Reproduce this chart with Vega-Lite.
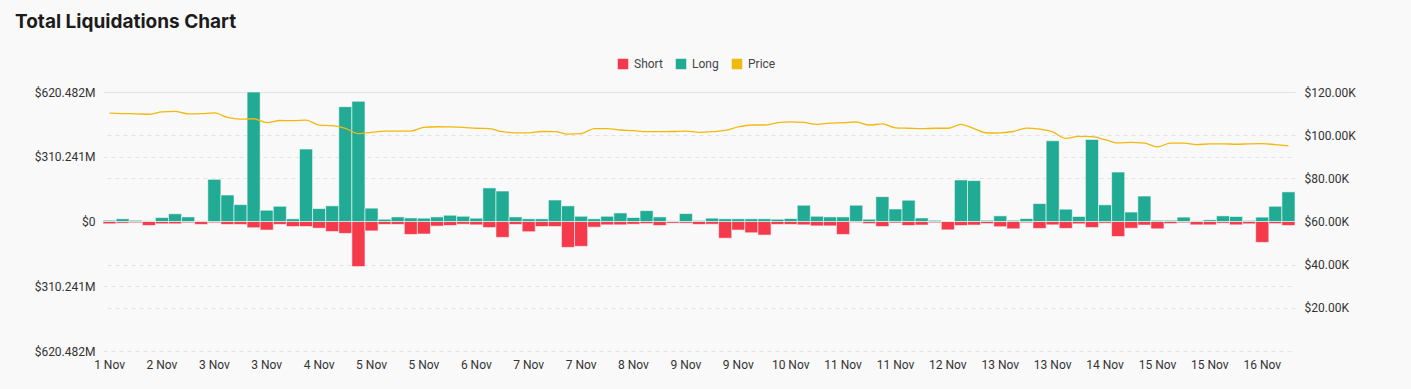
{
  "$schema": "https://vega.github.io/schema/vega-lite/v6.json",
  "width": 1192,
  "height": 259,
  "autosize": {"type": "none"},
  "padding": {"left": 103, "top": 92, "right": 116, "bottom": 38},
  "background": "#f9f9f9",
  "title": {
    "text": "Total Liquidations Chart",
    "anchor": "start",
    "frame": "group",
    "font": "Inter",
    "fontSize": 19,
    "fontWeight": 700,
    "color": "#1c1c1c",
    "dx": -88,
    "offset": 26
  },
  "config": {
    "view": {"stroke": null},
    "axis": {
      "labelFont": "Roboto",
      "labelFontSize": 12,
      "labelColor": "#333333",
      "ticks": false,
      "domain": false,
      "title": null
    }
  },
  "data": {
    "values": [
      {"time": "2024-11-01T16:00", "Long": 6, "Short": -11, "Price": 110.2},
      {"time": "2024-11-01T20:00", "Long": 13, "Short": -8, "Price": 110.0},
      {"time": "2024-11-02T00:00", "Long": 6, "Short": -6, "Price": 109.9},
      {"time": "2024-11-02T04:00", "Long": 3, "Short": -19, "Price": 109.7},
      {"time": "2024-11-02T08:00", "Long": 19, "Short": -11, "Price": 110.8},
      {"time": "2024-11-02T12:00", "Long": 37, "Short": -11, "Price": 111.0},
      {"time": "2024-11-02T16:00", "Long": 22, "Short": -6, "Price": 109.9},
      {"time": "2024-11-02T20:00", "Long": 3, "Short": -14, "Price": 110.0},
      {"time": "2024-11-03T00:00", "Long": 202, "Short": -6, "Price": 110.3},
      {"time": "2024-11-03T04:00", "Long": 127, "Short": -14, "Price": 108.2},
      {"time": "2024-11-03T08:00", "Long": 81, "Short": -14, "Price": 107.4},
      {"time": "2024-11-03T12:00", "Long": 620.482, "Short": -30, "Price": 107.6},
      {"time": "2024-11-03T16:00", "Long": 54, "Short": -41, "Price": 105.8},
      {"time": "2024-11-03T20:00", "Long": 73, "Short": -14, "Price": 106.8},
      {"time": "2024-11-04T00:00", "Long": 13, "Short": -24, "Price": 106.7},
      {"time": "2024-11-04T04:00", "Long": 347, "Short": -24, "Price": 107.0},
      {"time": "2024-11-04T08:00", "Long": 62, "Short": -32, "Price": 104.7},
      {"time": "2024-11-04T12:00", "Long": 75, "Short": -48, "Price": 104.4},
      {"time": "2024-11-04T16:00", "Long": 550, "Short": -57, "Price": 103.2},
      {"time": "2024-11-04T20:00", "Long": 576, "Short": -216, "Price": 100.7},
      {"time": "2024-11-05T00:00", "Long": 64, "Short": -45, "Price": 101.3},
      {"time": "2024-11-05T04:00", "Long": 11, "Short": -14, "Price": 101.9},
      {"time": "2024-11-05T08:00", "Long": 22, "Short": -14, "Price": 101.9},
      {"time": "2024-11-05T12:00", "Long": 17, "Short": -62, "Price": 101.9},
      {"time": "2024-11-05T16:00", "Long": 16, "Short": -60, "Price": 103.6},
      {"time": "2024-11-05T20:00", "Long": 22, "Short": -22, "Price": 103.9},
      {"time": "2024-11-06T00:00", "Long": 30, "Short": -19, "Price": 103.8},
      {"time": "2024-11-06T04:00", "Long": 25, "Short": -13, "Price": 103.6},
      {"time": "2024-11-06T08:00", "Long": 16, "Short": -16, "Price": 103.2},
      {"time": "2024-11-06T12:00", "Long": 161, "Short": -29, "Price": 103.0},
      {"time": "2024-11-06T16:00", "Long": 146, "Short": -76, "Price": 101.6},
      {"time": "2024-11-06T20:00", "Long": 22, "Short": -14, "Price": 101.1},
      {"time": "2024-11-07T00:00", "Long": 13, "Short": -49, "Price": 101.1},
      {"time": "2024-11-07T04:00", "Long": 13, "Short": -24, "Price": 101.7},
      {"time": "2024-11-07T08:00", "Long": 103, "Short": -24, "Price": 101.6},
      {"time": "2024-11-07T12:00", "Long": 75, "Short": -124, "Price": 100.5},
      {"time": "2024-11-07T16:00", "Long": 25, "Short": -119, "Price": 100.7},
      {"time": "2024-11-07T20:00", "Long": 13, "Short": -27, "Price": 103.0},
      {"time": "2024-11-08T00:00", "Long": 25, "Short": -16, "Price": 103.0},
      {"time": "2024-11-08T04:00", "Long": 41, "Short": -16, "Price": 102.4},
      {"time": "2024-11-08T08:00", "Long": 19, "Short": -13, "Price": 102.1},
      {"time": "2024-11-08T12:00", "Long": 52, "Short": -10, "Price": 101.6},
      {"time": "2024-11-08T16:00", "Long": 22, "Short": -19, "Price": 101.6},
      {"time": "2024-11-08T20:00", "Long": 3, "Short": -8, "Price": 101.7},
      {"time": "2024-11-09T00:00", "Long": 38, "Short": -8, "Price": 101.9},
      {"time": "2024-11-09T04:00", "Long": 5, "Short": -14, "Price": 101.3},
      {"time": "2024-11-09T08:00", "Long": 16, "Short": -13, "Price": 101.6},
      {"time": "2024-11-09T12:00", "Long": 13, "Short": -80, "Price": 102.2},
      {"time": "2024-11-09T16:00", "Long": 13, "Short": -41, "Price": 103.8},
      {"time": "2024-11-09T20:00", "Long": 13, "Short": -54, "Price": 104.7},
      {"time": "2024-11-10T00:00", "Long": 13, "Short": -65, "Price": 104.7},
      {"time": "2024-11-10T04:00", "Long": 11, "Short": -14, "Price": 105.8},
      {"time": "2024-11-10T08:00", "Long": 14, "Short": -14, "Price": 106.2},
      {"time": "2024-11-10T12:00", "Long": 78, "Short": -16, "Price": 105.9},
      {"time": "2024-11-10T16:00", "Long": 25, "Short": -21, "Price": 105.0},
      {"time": "2024-11-10T20:00", "Long": 22, "Short": -21, "Price": 105.6},
      {"time": "2024-11-11T00:00", "Long": 22, "Short": -62, "Price": 105.8},
      {"time": "2024-11-11T04:00", "Long": 78, "Short": -5, "Price": 106.1},
      {"time": "2024-11-11T08:00", "Long": 11, "Short": -10, "Price": 104.7},
      {"time": "2024-11-11T12:00", "Long": 119, "Short": -24, "Price": 105.2},
      {"time": "2024-11-11T16:00", "Long": 60, "Short": -7, "Price": 103.4},
      {"time": "2024-11-11T20:00", "Long": 102, "Short": -19, "Price": 103.2},
      {"time": "2024-11-12T00:00", "Long": 17, "Short": -17, "Price": 103.0},
      {"time": "2024-11-12T04:00", "Long": 6, "Short": -6, "Price": 103.2},
      {"time": "2024-11-12T08:00", "Long": 2, "Short": -40, "Price": 103.2},
      {"time": "2024-11-12T12:00", "Long": 199, "Short": -19, "Price": 105.0},
      {"time": "2024-11-12T16:00", "Long": 196, "Short": -17, "Price": 103.0},
      {"time": "2024-11-12T20:00", "Long": 6, "Short": -10, "Price": 101.0},
      {"time": "2024-11-13T00:00", "Long": 27, "Short": -25, "Price": 101.1},
      {"time": "2024-11-13T04:00", "Long": 6, "Short": -35, "Price": 101.7},
      {"time": "2024-11-13T08:00", "Long": 14, "Short": -6, "Price": 103.3},
      {"time": "2024-11-13T12:00", "Long": 86, "Short": -33, "Price": 102.8},
      {"time": "2024-11-13T16:00", "Long": 387, "Short": -16, "Price": 101.5},
      {"time": "2024-11-13T20:00", "Long": 59, "Short": -33, "Price": 98.5},
      {"time": "2024-11-14T00:00", "Long": 24, "Short": -11, "Price": 99.4},
      {"time": "2024-11-14T04:00", "Long": 393, "Short": -29, "Price": 99.3},
      {"time": "2024-11-14T08:00", "Long": 80, "Short": -8, "Price": 97.9},
      {"time": "2024-11-14T12:00", "Long": 237, "Short": -72, "Price": 96.4},
      {"time": "2024-11-14T16:00", "Long": 45, "Short": -32, "Price": 96.7},
      {"time": "2024-11-14T20:00", "Long": 122, "Short": -17, "Price": 96.3},
      {"time": "2024-11-15T00:00", "Long": 6, "Short": -35, "Price": 94.6},
      {"time": "2024-11-15T04:00", "Long": 6, "Short": -10, "Price": 96.3},
      {"time": "2024-11-15T08:00", "Long": 21, "Short": -6, "Price": 96.3},
      {"time": "2024-11-15T12:00", "Long": 3, "Short": -16, "Price": 95.6},
      {"time": "2024-11-15T16:00", "Long": 8, "Short": -16, "Price": 96.0},
      {"time": "2024-11-15T20:00", "Long": 27, "Short": -8, "Price": 96.0},
      {"time": "2024-11-16T00:00", "Long": 24, "Short": -16, "Price": 95.8},
      {"time": "2024-11-16T04:00", "Long": 5, "Short": -11, "Price": 96.0},
      {"time": "2024-11-16T08:00", "Long": 21, "Short": -100, "Price": 96.1},
      {"time": "2024-11-16T12:00", "Long": 73, "Short": -10, "Price": 95.6},
      {"time": "2024-11-16T16:00", "Long": 142, "Short": -19, "Price": 95.0}
    ]
  },
  "encoding": {
    "x": {
      "field": "time",
      "type": "ordinal",
      "scale": {"paddingInner": 0, "paddingOuter": 0},
      "axis": {
        "labelAngle": 0,
        "labelPadding": 8,
        "grid": false,
        "values": ["2024-11-01T16:00", "2024-11-02T08:00", "2024-11-03T00:00", "2024-11-03T16:00", "2024-11-04T08:00", "2024-11-05T00:00", "2024-11-05T16:00", "2024-11-06T08:00", "2024-11-07T00:00", "2024-11-07T16:00", "2024-11-08T08:00", "2024-11-09T00:00", "2024-11-09T16:00", "2024-11-10T08:00", "2024-11-11T00:00", "2024-11-11T16:00", "2024-11-12T08:00", "2024-11-13T00:00", "2024-11-13T16:00", "2024-11-14T08:00", "2024-11-15T00:00", "2024-11-15T16:00", "2024-11-16T08:00"],
        "labelExpr": "timeFormat(toDate(datum.value), '%-d %b')"
      }
    }
  },
  "layer": [
    {
      "transform": [{"fold": ["Short", "Long"], "as": ["type", "value"]}],
      "mark": {"type": "bar", "stroke": "#ffffff", "strokeWidth": 1, "strokeOpacity": 0.55},
      "encoding": {
        "y": {
          "field": "value",
          "type": "quantitative",
          "stack": null,
          "scale": {"domain": [-620.482, 620.482], "nice": false, "zero": true},
          "axis": {
            "orient": "left",
            "values": [-620.482, -310.241, 0, 310.241, 620.482],
            "labelExpr": "datum.value == 0 ? '$0' : '$' + format(abs(datum.value), '.3f') + 'M'",
            "labelPadding": 8,
            "grid": true,
            "gridDash": [4, 4],
            "gridColor": "#e3e3e3"
          }
        },
        "color": {
          "field": "type",
          "type": "nominal",
          "scale": {"domain": ["Short", "Long", "Price"], "range": ["#f43a4b", "#22ab94", "#f2b90d"]},
          "legend": {
            "title": null,
            "orient": "none",
            "direction": "horizontal",
            "legendX": 514,
            "legendY": -34,
            "symbolType": "square",
            "symbolSize": 110,
            "symbolStrokeWidth": 0,
            "labelFont": "Roboto",
            "labelFontSize": 12,
            "labelColor": "#444444",
            "labelOffset": 5,
            "columnPadding": 12
          }
        }
      }
    },
    {
      "mark": {"type": "line", "strokeWidth": 1.3, "interpolate": "monotone"},
      "encoding": {
        "y": {
          "field": "Price",
          "type": "quantitative",
          "scale": {"domain": [0, 120], "nice": false},
          "axis": {
            "orient": "right",
            "values": [20, 40, 60, 80, 100, 120],
            "labelExpr": "'$' + format(datum.value, '.2f') + 'K'",
            "labelPadding": 9,
            "grid": true,
            "gridDash": [4, 4],
            "gridColor": "#e3e3e3"
          }
        },
        "color": {"datum": "Price"}
      }
    }
  ],
  "resolve": {"scale": {"y": "independent"}}
}
